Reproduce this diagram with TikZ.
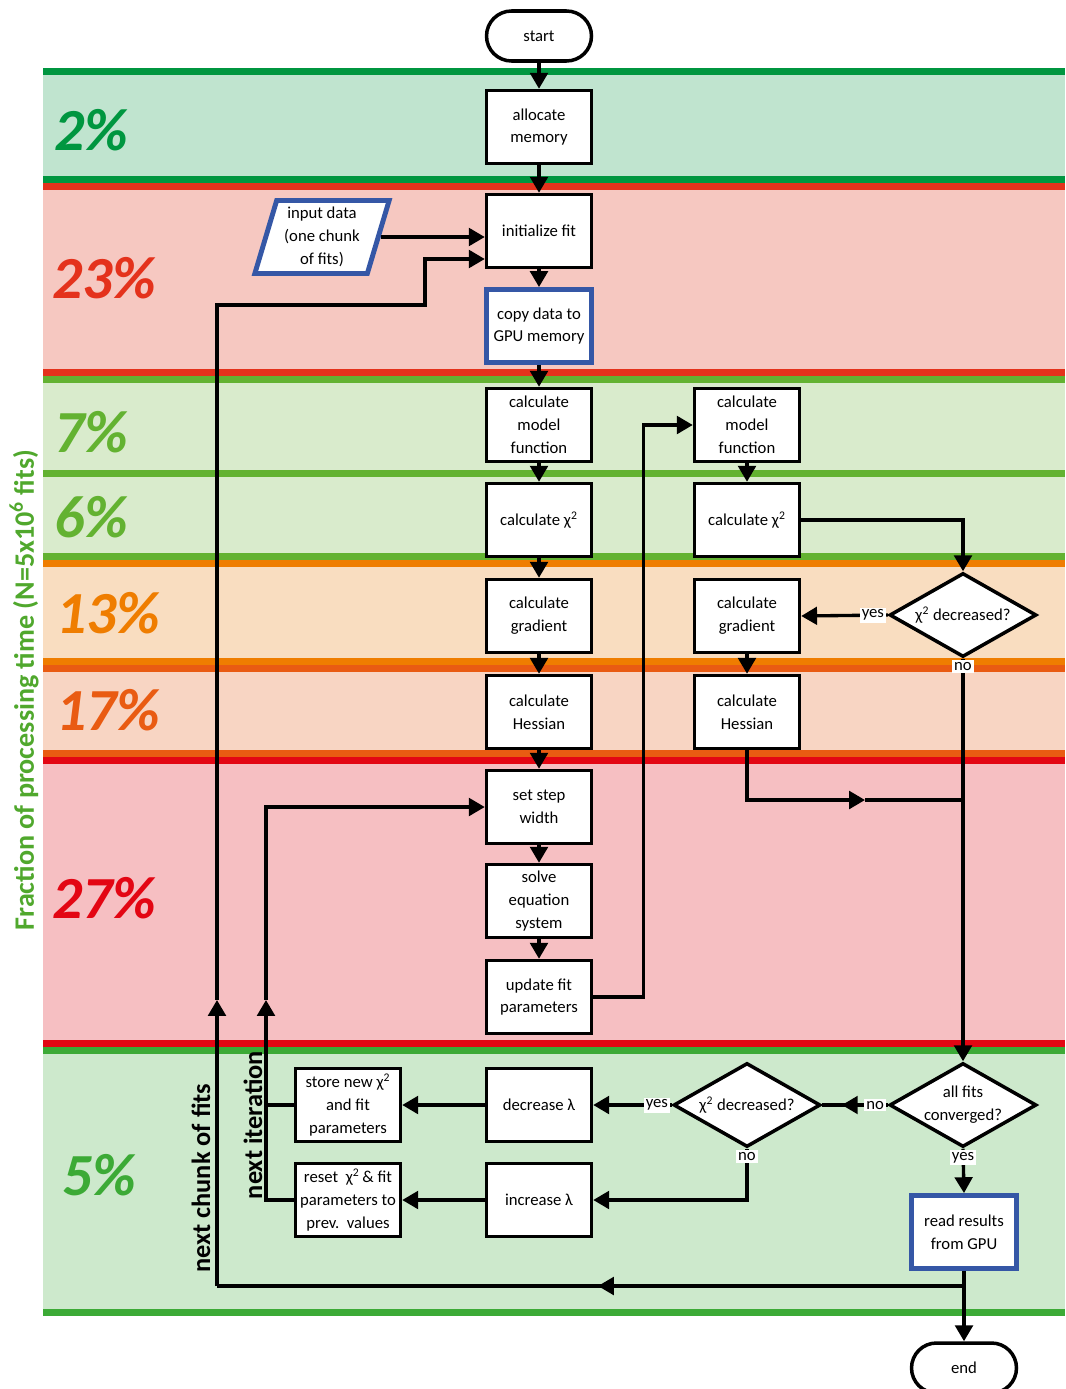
\documentclass[tikz,border=0pt]{standalone}
\usepackage{fontspec}
\setmainfont{Carlito}
\usetikzlibrary{arrows.meta,positioning,shapes.geometric,calc,decorations.markings}
\definecolor{gA}{RGB}{0,150,64}    \definecolor{gAf}{RGB}{192,228,207}
\definecolor{rA}{RGB}{228,50,28}   \definecolor{rAf}{RGB}{246,200,193}
\definecolor{gB}{RGB}{99,178,49}   \definecolor{gBf}{RGB}{217,235,204}
\definecolor{oA}{RGB}{239,125,0}   \definecolor{oAf}{RGB}{249,221,192}
\definecolor{oB}{RGB}{233,91,18}   \definecolor{oBf}{RGB}{248,213,195}
\definecolor{rB}{RGB}{227,6,19}    \definecolor{rBf}{RGB}{246,191,194}
\definecolor{gC}{RGB}{60,170,54}   \definecolor{gCf}{RGB}{205,233,204}
\definecolor{blu}{RGB}{53,87,166}
\definecolor{gY}{RGB}{80,168,45}
\newcommand{\chisq}{χ\textsuperscript{2}}
\newcommand{\boxfont}{\fontsize{9.5}{13}\selectfont}

\begin{document}
\begin{tikzpicture}[x=0.02cm,y=-0.02cm,
  box/.style={draw,line width=2pt,fill=white,minimum width=2.1cm,minimum height=1.46cm,inner sep=1pt,align=center,font=\boxfont},
  gpu/.style={box,draw=blu,line width=2.8pt},
  term/.style={box,rounded corners=0.5cm,minimum height=1cm},
  dec/.style={diamond,aspect=1.75,draw,line width=2pt,fill=white,minimum width=2.94cm,minimum height=1.68cm,inner sep=-2pt,align=center,font=\boxfont},
  lab/.style={fill=white,inner sep=1.2pt,font=\boxfont},
  pct/.style={anchor=west,font=\fontsize{34}{34}\selectfont\bfseries\itshape},
  side/.style={rotate=90,font=\fontsize{15}{15}\selectfont\bfseries},
  wire/.style={line width=1.9pt},
  arr/.style={wire,-{Triangle[length=9pt,width=10pt]}},
  midarr/.style={postaction={decorate},decoration={markings,mark=at position #1 with {\arrow{Triangle[length=9pt,width=10pt]}}}}]

\useasboundingbox (0,0) rectangle (1065,1389);

% --- bands ------------------------------------------------------------
\foreach \t/\b/\lc/\fc in {68/183/gA/gAf, 183/376/rA/rAf, 376/477/gB/gBf, 470/560/gB/gBf,
    560/665/oA/oAf, 665/757/oB/oBf, 757/1047/rB/rBf, 1047/1316/gC/gCf}{
  \fill[\fc] (43,\t) rectangle (1065,\b);
  \fill[\lc] (43,\t) rectangle (1065,\t+7);
  \fill[\lc] (43,\b-7) rectangle (1065,\b);
}
\foreach \x/\y/\p/\c in {48/130/2/gA, 46/278/23/rA, 48/432/7/gB, 48/517/6/gB,
    50/613/13/oA, 50/710/17/oB, 46/898/27/rB, 56/1175/5/gC}{
  \node[pct,text=\c] (pct\p) at (\x,\y) {\p\%};
}
\node[rotate=90,font=\fontsize{16}{16}\selectfont\bfseries,text=gY] (ylab) at (24,690)
  {Fraction of processing time (N=5x10\textsuperscript{6} fits)};

% --- main column ------------------------------------------------------
\node[term] (start) at (539,36) {start};
\node[box] (alloc) at (539,127) {allocate\\memory};
\node[box] (init) at (539,231) {initialize fit};
\node[gpu] (copy) at (539,326) {copy data to\\GPU memory};
\node[box] (mod) at (539,425) {calculate\\model\\function};
\node[box] (chi) at (539,520) {calculate \chisq};
\node[box] (grad) at (539,616) {calculate\\gradient};
\node[box] (hes) at (539,712) {calculate\\Hessian};
\node[box] (step) at (539,807) {set step\\width};
\node[box] (solve) at (539,901) {solve\\equation\\system};
\node[box] (upd) at (539,997) {update fit\\parameters};
\node[box] (declam) at (539,1105) {decrease λ};
\node[box] (inclam) at (539,1200) {increase λ};
\node[box] (store) at (348,1105) {store new \chisq\\and fit\\parameters};
\node[box] (reset) at (348,1200) {reset \ \chisq\,\& fit\\parameters to\\prev.\ \ values};
\node[trapezium,trapezium left angle=73,trapezium right angle=107,trapezium stretches=true,
  draw=blu,line width=2.8pt,fill=white,minimum width=2.7cm,minimum height=1.46cm,
  inner sep=0pt,align=center,font=\boxfont] (in) at (322,237) {input data\\(one chunk\\of fits)};

% --- right column -----------------------------------------------------
\node[box] (rmod) at (747,425) {calculate\\model\\function};
\node[box] (rchi) at (747,520) {calculate \chisq};
\node[box] (rgrad) at (747,616) {calculate\\gradient};
\node[box] (rhes) at (747,712) {calculate\\Hessian};
\node[dec] (dec1) at (963,615) {\chisq\ decreased?};
\node[dec] (conv) at (963,1105) {all fits\\converged?};
\node[dec] (dec2) at (747,1105) {\chisq\ decreased?};
\node[gpu] (rr) at (964,1232) {read results\\from GPU};
\node[term] (end) at (964,1368) {end};

\node[side] (nxtchunk) at (201,1178) {next chunk of fits};
\node[side] (nxtiter) at (253,1125) {next iteration};

% --- connectors -------------------------------------------------------
\draw[arr] (start) -- (alloc);
\draw[arr] (alloc) -- (init);
\draw[arr] (init) -- (copy);
\draw[arr] (copy) -- (mod);
\draw[arr] (mod) -- (chi);
\draw[arr] (chi) -- (grad);
\draw[arr] (grad) -- (hes);
\draw[arr] (hes) -- (step);
\draw[arr] (step) -- (solve);
\draw[arr] (solve) -- (upd);
\draw[arr] (rmod) -- (rchi);
\draw[arr] (rgrad) -- (rhes);
\draw[arr] (in.east) -- (in.east -| init.west);
\draw[arr] (upd.east) -- ++(50,0) |- (rmod.west);
\draw[arr] (rchi.east) -| (dec1.north);
\draw[arr] (dec1.west) -- node[lab,pos=0,anchor=east] {yes} (rgrad.east);
\draw[arr] (dec1.south) -- node[lab,pos=0,anchor=north] {no} (conv.north);
\coordinate (hm) at (865,800);
\draw[arr] (rhes.south) |- (hm);
\draw[wire] (hm) -- (hm -| conv.north);
\draw[wire,midarr=0.7] (conv.west) -- node[lab,pos=0,anchor=east] {no} (dec2.east);
\draw[arr] (dec2.west) -- node[lab,pos=0,anchor=east] {yes} (declam.east);
\draw[arr] (dec2.south) |- node[lab,pos=0,anchor=north] {no} (inclam.east);
\draw[arr] (conv.south) -- node[lab,pos=0,anchor=north] {yes} (rr.north);
\draw[arr] (declam) -- (store);
\draw[arr] (inclam) -- (reset);
\coordinate (iter) at (266,1000);
\draw[wire] (store.west) -- (store.west -| iter);
\draw[arr] (reset.west) -| (iter);
\draw[arr] (iter) |- (step.west);
\draw[arr] (rr) -- (end);
\coordinate (split) at (964,1286);
\coordinate (chunk) at (217,1000);
\coordinate (jog) at (425,305);
\draw[wire,midarr=0.49] (split) -- (split -| chunk);
\draw[arr] (split -| chunk) -- (chunk);
\draw[arr] (chunk) |- (jog) |- ($(init.west)+(0,28)$);
\end{tikzpicture}
\end{document}
